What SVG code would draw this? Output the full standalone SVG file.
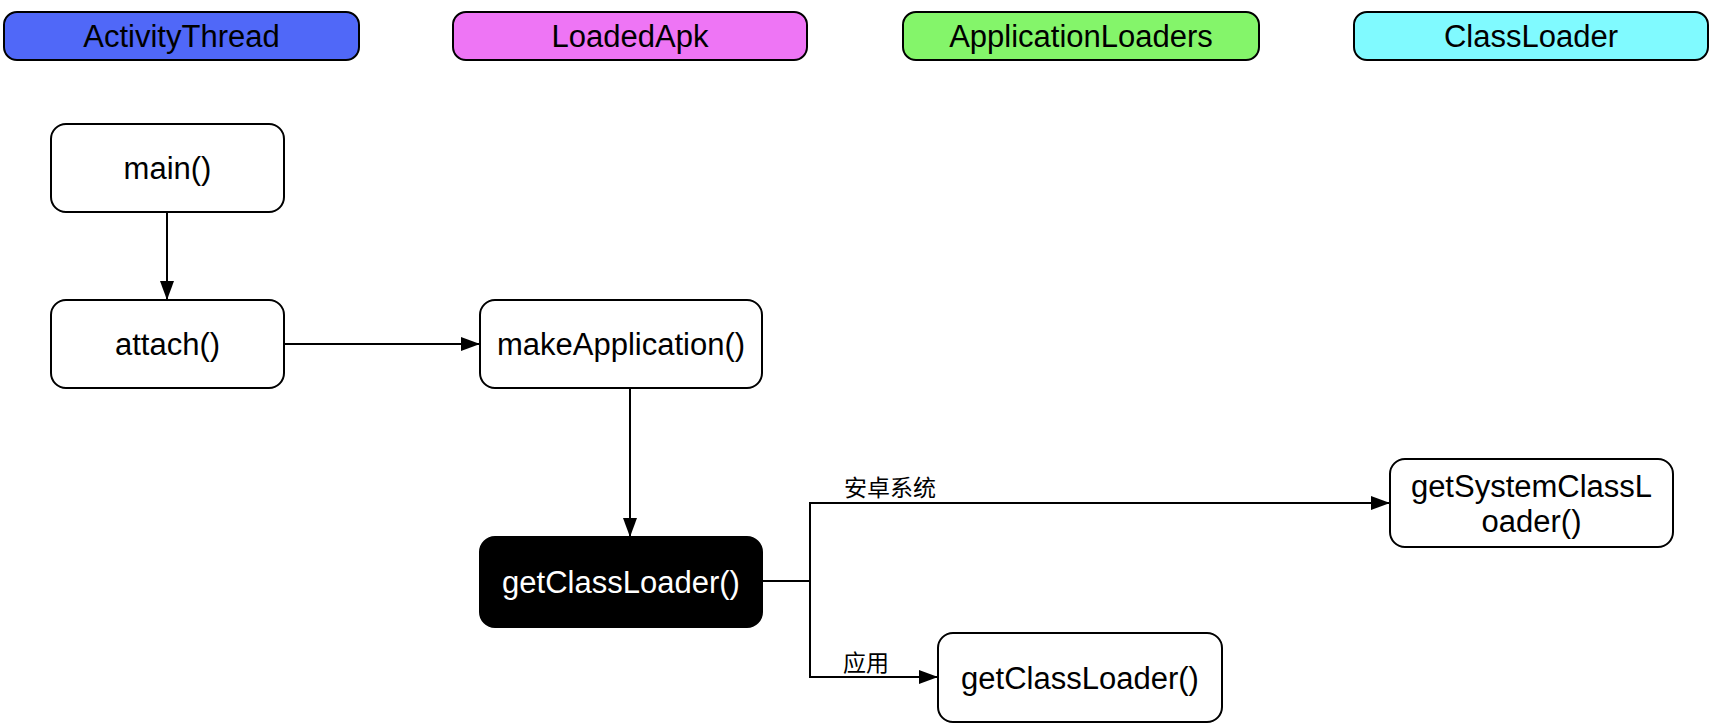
<svg xmlns="http://www.w3.org/2000/svg" width="1716" height="728" viewBox="0 0 1716 728">
<style>
.lane{stroke:#000;stroke-width:2}
.node{fill:#fff;stroke:#000;stroke-width:2}
.t{font-family:"Liberation Sans",Arial,"Noto Sans CJK SC",sans-serif;font-size:31px;fill:#000;text-anchor:middle}
.w{fill:#fff}
.lbl{font-family:"Noto Sans CJK SC","Liberation Sans",sans-serif;font-size:23px;fill:#000}
.c{fill:none;stroke:#000;stroke-width:2}
</style>
<defs>
<marker id="arr" markerUnits="userSpaceOnUse" markerWidth="20" markerHeight="16" refX="19" refY="7" orient="auto">
<path d="M0,0 L19,7 L0,14 z" fill="#000"/>
</marker>
</defs>
<rect width="1716" height="728" fill="#fff"/>
<g id="lane-activitythread">
<rect class="lane" x="4" y="12" width="355" height="48" rx="13" fill="#5068F8"/>
<text class="t" x="181.5" y="47">ActivityThread</text>
</g>
<g id="lane-loadedapk">
<rect class="lane" x="453" y="12" width="354" height="48" rx="13" fill="#EE75F5"/>
<text class="t" x="630" y="47">LoadedApk</text>
</g>
<g id="lane-applicationloaders">
<rect class="lane" x="903" y="12" width="356" height="48" rx="13" fill="#84F56A"/>
<text class="t" x="1081" y="47">ApplicationLoaders</text>
</g>
<g id="lane-classloader">
<rect class="lane" x="1354" y="12" width="354" height="48" rx="13" fill="#80FAFF"/>
<text class="t" x="1531" y="47">ClassLoader</text>
</g>
<g id="connectors">
<path class="c" d="M167,212 V300" marker-end="url(#arr)"/>
<path class="c" d="M284,344 H480" marker-end="url(#arr)"/>
<path class="c" d="M630,388 V537" marker-end="url(#arr)"/>
<path class="c" d="M762,581 H810 V503 H1390" marker-end="url(#arr)"/>
<path class="c" d="M810,581 V677 H938" marker-end="url(#arr)"/>
<text class="lbl" x="844" y="496">安卓系统</text>
<text class="lbl" x="843" y="671">应用</text>
</g>
<g id="node-main">
<rect class="node" x="51" y="124" width="233" height="88" rx="15"/>
<text class="t" x="167.5" y="179">main()</text>
</g>
<g id="node-attach">
<rect class="node" x="51" y="300" width="233" height="88" rx="15"/>
<text class="t" x="167.5" y="355">attach()</text>
</g>
<g id="node-makeapplication">
<rect class="node" x="480" y="300" width="282" height="88" rx="15"/>
<text class="t" x="621" y="355">makeApplication()</text>
</g>
<g id="node-getclassloader">
<rect x="480" y="537" width="282" height="90" rx="15" fill="#000" stroke="#000" stroke-width="2"/>
<text class="t w" x="621" y="593">getClassLoader()</text>
</g>
<g id="node-getsystemclassloader">
<rect class="node" x="1390" y="459" width="283" height="88" rx="15"/>
<text class="t" x="1531.5" y="497">getSystemClassL</text>
<text class="t" x="1531.5" y="532">oader()</text>
</g>
<g id="node-getclassloader-app">
<rect class="node" x="938" y="633" width="284" height="89" rx="15"/>
<text class="t" x="1080" y="689">getClassLoader()</text>
</g>
</svg>
